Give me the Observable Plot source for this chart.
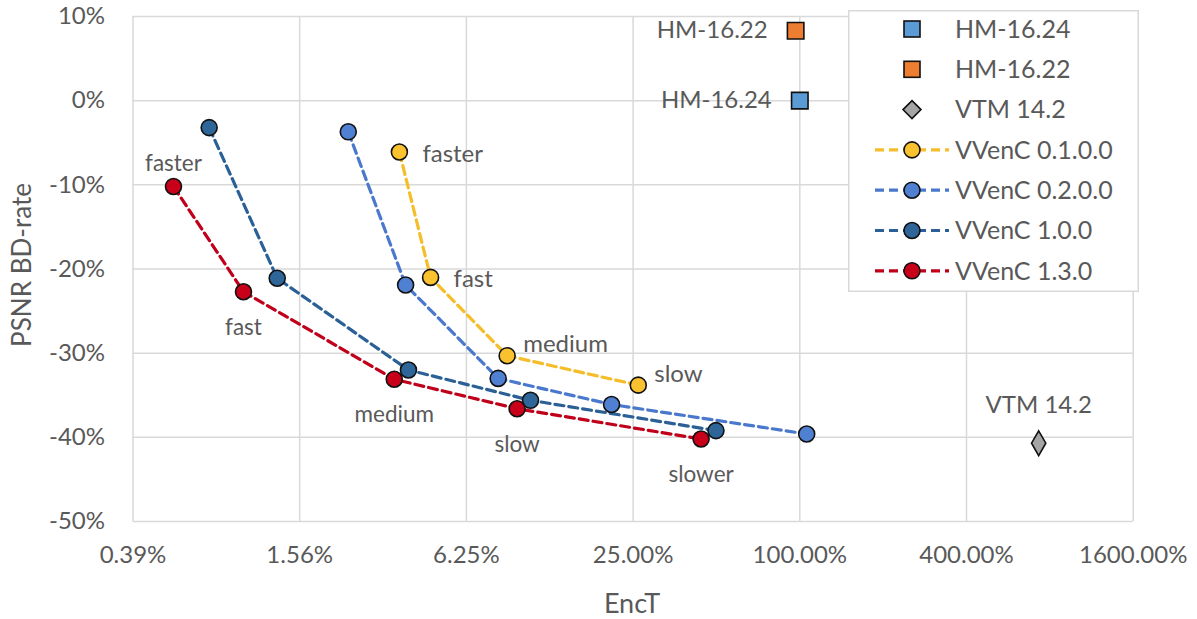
<!DOCTYPE html>
<html><head><meta charset="utf-8">
<script src="https://cdn.jsdelivr.net/npm/d3@7"></script>
<script src="https://cdn.jsdelivr.net/npm/@observablehq/plot@0.6"></script>
<style>
body{margin:0;background:#fff;font-family:Lato,"Open Sans",sans-serif;}
#wrap{position:relative;width:1197px;height:619px;}
#legend{position:absolute;left:848px;top:10px;}
</style></head>
<body><div id="wrap"><div id="chart"></div><div id="legend"></div></div>
<script>
// EncT (%) and PSNR BD-rate (%) per preset
const presets = ["faster","fast","medium","slow","slower"];
const v010_x = [3.58, 4.64, 8.77, 26.1];
const v010_y = [-6.1, -21.0, -30.3, -33.8];
const v020_x = [2.34, 3.77, 8.14, 20.9, 105.9];
const v020_y = [-3.7, -21.9, -33.0, -36.1, -39.6];
const v100_x = [0.736, 1.296, 3.86, 10.65, 49.8];
const v100_y = [-3.2, -21.1, -32.0, -35.6, -39.2];
const v130_x = [0.547, 0.979, 3.43, 9.53, 44.0];
const v130_y = [-10.2, -22.7, -33.1, -36.6, -40.2];
const anchorNames = ["HM-16.24","HM-16.22","VTM 14.2"];
const anchorX = [100, 96.6, 729];
const anchorY = [0, 8.3, -40.7];
const xTicks = [0.390625, 1.5625, 6.25, 25, 100, 400, 1600];
const xTickLabels = ["0.39%","1.56%","6.25%","25.00%","100.00%","400.00%","1600.00%"];
const yTicks = [-50,-40,-30,-20,-10,0,10];
const seriesNames = ["VVenC 0.1.0.0","VVenC 0.2.0.0","VVenC 1.0.0","VVenC 1.3.0"];

const lineCol = {"VVenC 0.1.0.0":"#F5BD2A","VVenC 0.2.0.0":"#4A78CC","VVenC 1.0.0":"#2A6096","VVenC 1.3.0":"#C0001A"};
const dotCol = {"VVenC 0.1.0.0":"#FAC22E","VVenC 0.2.0.0":"#5080D2","VVenC 1.0.0":"#2E6699","VVenC 1.3.0":"#C8001A"};
const anchorFill = {"HM-16.24":"#5B9BD5","HM-16.22":"#ED7D31","VTM 14.2":"#A5A5A5"};

function build(name, xs, ys){ return xs.map((x,i)=>({series:name, x, y:ys[i], preset:presets[i]})); }
const data = [
  ...build(seriesNames[0], v010_x, v010_y),
  ...build(seriesNames[1], v020_x, v020_y),
  ...build(seriesNames[2], v100_x, v100_y),
  ...build(seriesNames[3], v130_x, v130_y)
];
const anchors = anchorNames.map((n,i)=>({name:n, x:anchorX[i], y:anchorY[i]}));
const red = data.filter(d=>d.series==="VVenC 1.3.0");
const yel = data.filter(d=>d.series==="VVenC 0.1.0.0");
const txt = "#595959";
const font = "Lato, 'Open Sans', sans-serif";

const plot = Plot.plot({
  width:1197, height:619,
  marginLeft:132.5, marginRight:64.3, marginTop:16, marginBottom:98,
  style:{fontFamily:font, color:txt, background:"transparent"},
  x:{type:"log", base:4, domain:[0.390625,1600], label:null},
  y:{domain:[-50,10], label:null},
  marks:[
    Plot.ruleX(xTicks, {x:d=>d, stroke:"#d9d9d9", strokeWidth:1.5}),
    Plot.ruleY(yTicks, {y:d=>d, stroke:"#d9d9d9", strokeWidth:1.5}),
    Plot.axisX({ticks:xTicks, tickFormat:d=>xTickLabels[xTicks.indexOf(d)], tickSize:0, tickPadding:24, fontSize:24, fill:txt, label:null}),
    Plot.axisY({ticks:yTicks, tickFormat:d=>d+"%", tickSize:0, tickPadding:28, fontSize:24, fill:txt, label:null}),
    ...seriesNames.map(s=>Plot.line(data.filter(d=>d.series===s), {x:"x", y:"y", stroke:lineCol[s], strokeWidth:3.2, strokeDasharray:"9,5"})),
    Plot.dot(data, {x:"x", y:"y", r:8, fill:d=>dotCol[d.series], stroke:"#111", strokeWidth:1.6}),
    Plot.dot(anchors.filter(d=>d.name!=="VTM 14.2"), {x:"x", y:"y", symbol:"square", r:9.3, fill:d=>anchorFill[d.name], stroke:"#111", strokeWidth:1.6}),
    Plot.dot(anchors.filter(d=>d.name==="VTM 14.2"), {x:"x", y:"y", symbol:"diamond", r:7.5, fill:d=>anchorFill[d.name], stroke:"#111", strokeWidth:1.6}),
    Plot.text(red.slice(0,1), {x:"x", y:"y", text:"preset", dy:-23, fontSize:22.5, fill:txt}),
    Plot.text(red.slice(1), {x:"x", y:"y", text:"preset", dy:36, fontSize:22.5, fill:txt}),
    Plot.text(yel.slice(0,2), {x:"x", y:"y", text:"preset", dx:23, dy:2, textAnchor:"start", fontSize:24, fill:txt}),
    Plot.text(yel.slice(2), {x:"x", y:"y", text:"preset", dx:16, dy:-11, textAnchor:"start", fontSize:24, fill:txt}),
    Plot.text(anchors.filter(d=>d.name!=="VTM 14.2"), {x:"x", y:"y", text:"name", dx:-28, textAnchor:"end", fontSize:24, fill:txt}),
    Plot.text(anchors.filter(d=>d.name==="VTM 14.2"), {x:"x", y:"y", text:"name", dy:-38, fontSize:24, fill:txt})
  ]
});
document.getElementById("chart").appendChild(plot);
const svg = d3.select(plot);
svg.append("text").attr("x",632).attr("y",613).attr("text-anchor","middle").attr("font-size",27).attr("fill",txt).attr("font-family",font).text("EncT");
svg.append("text").attr("transform","translate(31,265) rotate(-90)").attr("text-anchor","middle").attr("font-size",26).attr("fill",txt).attr("font-family",font).text("PSNR BD-rate");

// Legend
const legItems = [
  {label:"HM-16.24", kind:"square", fill:anchorFill["HM-16.24"]},
  {label:"HM-16.22", kind:"square", fill:anchorFill["HM-16.22"]},
  {label:"VTM 14.2", kind:"diamond", fill:anchorFill["VTM 14.2"]},
  ...seriesNames.map(s=>({label:s, kind:"line", fill:dotCol[s], stroke:lineCol[s]}))
];
const L = d3.select("#legend").append("svg").attr("width",291).attr("height",282);
L.append("rect").attr("x",0.75).attr("y",0.75).attr("width",289.5).attr("height",280.5).attr("fill","#fff").attr("stroke","#d9d9d9").attr("stroke-width",1.5);
legItems.forEach((it,i)=>{
  const cy = 19 + i*40.3, cx = 64;
  if(it.kind==="line"){
    L.append("line").attr("x1",27).attr("x2",101).attr("y1",cy).attr("y2",cy).attr("stroke",it.stroke).attr("stroke-width",3.2).attr("stroke-dasharray","9,5");
    L.append("circle").attr("cx",cx).attr("cy",cy).attr("r",8).attr("fill",it.fill).attr("stroke","#111").attr("stroke-width",1.6);
  } else if(it.kind==="square"){
    L.append("rect").attr("x",cx-8).attr("y",cy-8).attr("width",16).attr("height",16).attr("fill",it.fill).attr("stroke","#111").attr("stroke-width",1.6);
  } else {
    L.append("path").attr("d",`M${cx},${cy-9}L${cx+9},${cy}L${cx},${cy+9}L${cx-9},${cy}Z`).attr("fill",it.fill).attr("stroke","#111").attr("stroke-width",1.6);
  }
  L.append("text").attr("x",107).attr("y",cy).attr("dy","0.35em").attr("font-size",25).attr("fill",txt).attr("font-family",font).text(it.label);
});
</script></body></html>
